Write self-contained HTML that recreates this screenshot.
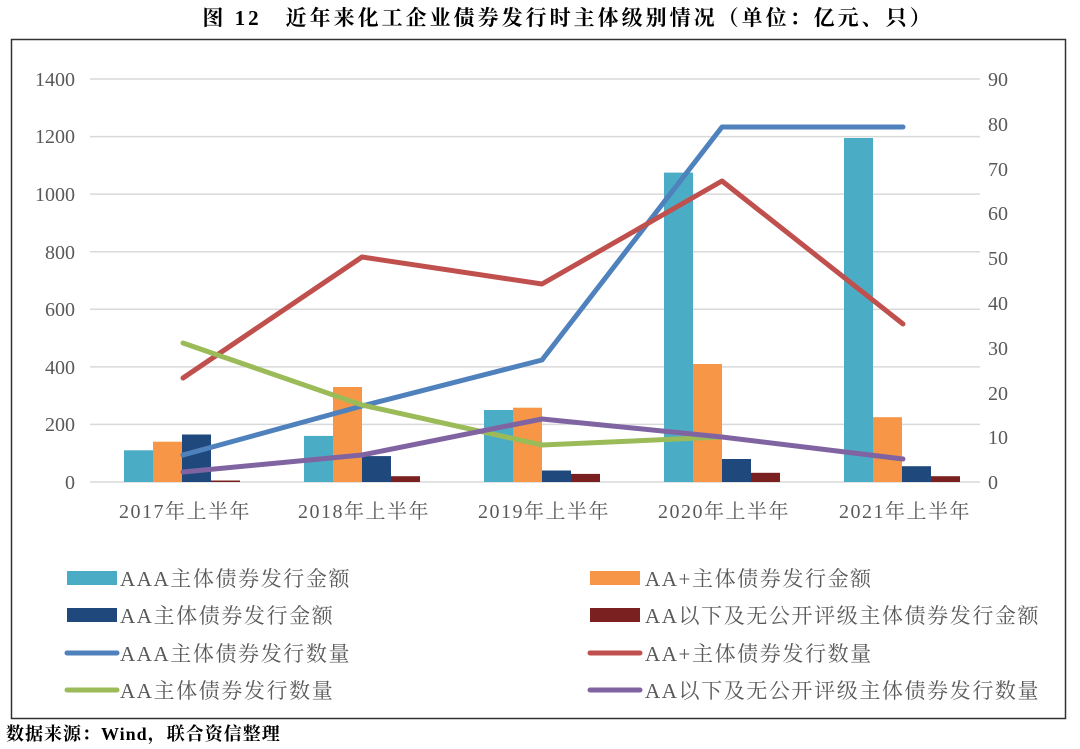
<!DOCTYPE html>
<html><head><meta charset="utf-8"><style>
body{margin:0;background:#fff;}
svg{display:block;}
text{font-family:"Liberation Serif","Noto Serif CJK SC",serif;}
</style></head><body>
<svg width="1080" height="749" xmlns="http://www.w3.org/2000/svg">
<text x="568" y="25" font-size="21" letter-spacing="3" text-anchor="middle" fill="#000" font-weight="bold">图 12　近年来化工企业债券发行时主体级别情况（单位：亿元、只）</text>
<rect x="11.5" y="39.5" width="1054" height="679" fill="none" stroke="#333" stroke-width="1.5"/>
<g stroke="#d9d9d9" stroke-width="1.5">
<line x1="90" x2="980" y1="79" y2="79"/><line x1="90" x2="980" y1="136.6" y2="136.6"/>
<line x1="90" x2="980" y1="194.1" y2="194.1"/><line x1="90" x2="980" y1="251.7" y2="251.7"/>
<line x1="90" x2="980" y1="309.3" y2="309.3"/><line x1="90" x2="980" y1="366.9" y2="366.9"/>
<line x1="90" x2="980" y1="424.4" y2="424.4"/><line x1="90" x2="980" y1="482" y2="482"/>
</g>
<g font-size="20" fill="#595959" text-anchor="end">
<text x="75" y="86">1400</text><text x="75" y="143">1200</text><text x="75" y="201">1000</text>
<text x="75" y="259">800</text><text x="75" y="316">600</text><text x="75" y="374">400</text>
<text x="75" y="431">200</text><text x="75" y="489">0</text>
</g>
<g font-size="20" fill="#595959">
<text x="988" y="86">90</text><text x="988" y="131">80</text><text x="988" y="176">70</text>
<text x="988" y="220">60</text><text x="988" y="265">50</text><text x="988" y="310">40</text>
<text x="988" y="355">30</text><text x="988" y="400">20</text><text x="988" y="444">10</text><text x="988" y="489">0</text>
</g>
<g font-size="20" fill="#595959" text-anchor="middle" letter-spacing="1.5">
<text x="185" y="518">2017年上半年</text><text x="364" y="518">2018年上半年</text>
<text x="544" y="518">2019年上半年</text><text x="724" y="518">2020年上半年</text><text x="905" y="518">2021年上半年</text>
</g>
<g>
<rect x="124" y="450.3" width="29" height="31.7" fill="#4bacc6"/>
<rect x="153" y="441.7" width="29" height="40.3" fill="#f79646"/>
<rect x="182" y="434.5" width="29" height="47.5" fill="#1f497d"/>
<rect x="211" y="480.5" width="29" height="1.5" fill="#7b2020"/>
<rect x="304" y="435.9" width="29" height="46.1" fill="#4bacc6"/>
<rect x="333" y="387" width="29" height="95" fill="#f79646"/>
<rect x="362" y="456.1" width="29" height="25.9" fill="#1f497d"/>
<rect x="391" y="476.2" width="29" height="5.8" fill="#7b2020"/>
<rect x="484" y="410" width="29" height="72" fill="#4bacc6"/>
<rect x="513" y="407.7" width="29" height="74.3" fill="#f79646"/>
<rect x="542" y="470.5" width="29" height="11.5" fill="#1f497d"/>
<rect x="571" y="473.9" width="29" height="8.1" fill="#7b2020"/>
<rect x="664" y="172.6" width="29" height="309.4" fill="#4bacc6"/>
<rect x="693" y="364" width="29" height="118" fill="#f79646"/>
<rect x="722" y="459" width="29" height="23" fill="#1f497d"/>
<rect x="751" y="472.8" width="29" height="9.2" fill="#7b2020"/>
<rect x="844" y="138" width="29" height="344" fill="#4bacc6"/>
<rect x="873" y="417.2" width="29" height="64.8" fill="#f79646"/>
<rect x="902" y="466.2" width="29" height="15.8" fill="#1f497d"/>
<rect x="931" y="476.2" width="29" height="5.8" fill="#7b2020"/>
</g>
<g fill="none" stroke-width="5" stroke-linecap="round" stroke-linejoin="round">
<polyline stroke="#4f81bd" points="183,455 362,406 542,360 722,127 903,127"/>
<polyline stroke="#c0504d" points="183,378 362,257 542,284 722,181 903,324"/>
<polyline stroke="#9bbb59" points="183,343 362,405 542,445 722,437"/>
<polyline stroke="#8064a2" points="183,472 362,455 542,419 722,437 903,459"/>
</g>
<g font-size="21" fill="#595959" letter-spacing="1.6">
<rect x="67" y="571" width="50" height="14" fill="#4bacc6"/><text x="120" y="586">AAA主体债券发行金额</text>
<rect x="590" y="571" width="50" height="14" fill="#f79646"/><text x="645" y="586">AA+主体债券发行金额</text>
<rect x="67" y="608" width="50" height="14" fill="#1f497d"/><text x="120" y="623">AA主体债券发行金额</text>
<rect x="590" y="608" width="50" height="14" fill="#7b2020"/><text x="645" y="623">AA以下及无公开评级主体债券发行金额</text>
<line x1="67" x2="117" y1="653" y2="653" stroke="#4f81bd" stroke-width="5" stroke-linecap="round"/><text x="120" y="661">AAA主体债券发行数量</text>
<line x1="590" x2="640" y1="653" y2="653" stroke="#c0504d" stroke-width="5" stroke-linecap="round"/><text x="645" y="661">AA+主体债券发行数量</text>
<line x1="67" x2="117" y1="690" y2="690" stroke="#9bbb59" stroke-width="5" stroke-linecap="round"/><text x="120" y="698">AA主体债券发行数量</text>
<line x1="590" x2="640" y1="690" y2="690" stroke="#8064a2" stroke-width="5" stroke-linecap="round"/><text x="645" y="698">AA以下及无公开评级主体债券发行数量</text>
</g>
<text x="6" y="740" font-size="18" letter-spacing="1" fill="#000" font-weight="bold">数据来源：Wind，联合资信整理</text>
</svg>
</body></html>
